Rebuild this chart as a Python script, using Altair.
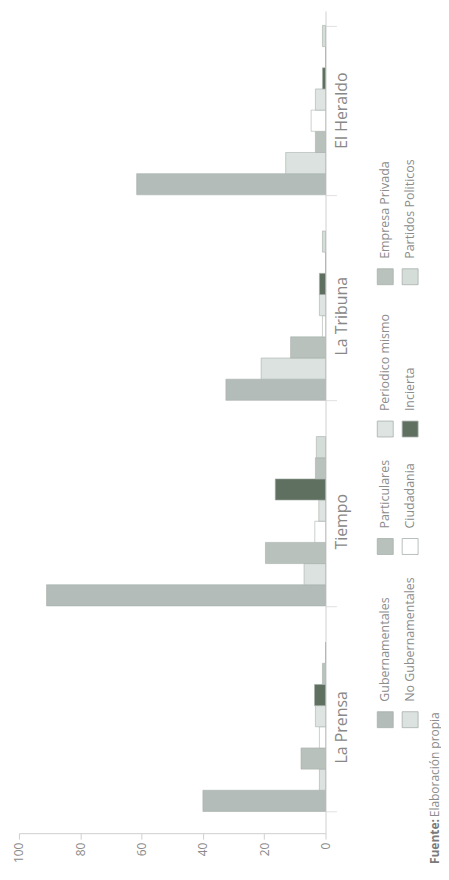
import altair as alt
import pandas as pd

# ---- data ----
newspapers = ["La Prensa", "Tiempo", "La Tribuna", "El Heraldo"]
series = ["Gubernamentales", "No Gubernamentales", "Particulares", "Ciudadania",
          "Periodico mismo", "Incierta", "Empresa Privada", "Partidos Politicos"]
la_prensa = [40, 2, 8, 2, 3.3, 3.6, 1, 0]
tiempo = [91, 7, 19.6, 3.5, 2.2, 16.4, 3.3, 3]
la_tribuna = [32.5, 21, 11.4, 1, 2, 2, 0, 1]
el_heraldo = [61.6, 13, 3.3, 4.7, 3.3, 1, 0, 1]
x_ticks = [0, 20, 40, 60, 80, 100]
source_parts = ["Fuente:", "Elaboración propia"]

colors = ["#b3bcb8", "#dbe2df", "#b9c1bd", "#ffffff",
          "#dde4e1", "#5f6f60", "#bac2be", "#d5ddd9"]

values_by_paper = [la_prensa, tiempo, la_tribuna, el_heraldo]
rows = []
for paper, vals in zip(newspapers, values_by_paper):
    for s, v in zip(series, vals):
        rows.append({"periodico": paper, "serie": s, "valor": v})
df = pd.DataFrame(rows)

color_scale = alt.Scale(domain=series, range=colors)

bars = alt.Chart(df).mark_bar(stroke="#a7afab", strokeWidth=0.6).encode(
    x=alt.X("valor:Q",
            scale=alt.Scale(domain=[0, 100], reverse=True, nice=False),
            axis=alt.Axis(values=x_ticks, orient="bottom", labelAngle=270,
                          labelAlign="right", labelBaseline="middle",
                          grid=False, tickSize=6, labelPadding=3,
                          labelFontSize=12, labelFont="Open Sans",
                          labelColor="#8a8a8a", domainColor="#d0d0d0",
                          tickColor="#d0d0d0", title=None)),
    y=alt.Y("periodico:N", sort=list(reversed(newspapers)),
            scale=alt.Scale(paddingInner=0.176, paddingOuter=0.088, align=0.4),
            axis=alt.Axis(orient="right", labelAngle=270, labelAlign="center",
                          labelBaseline="top", tickBand="extent", tickSize=11,
                          labelPadding=-3, labelFontSize=16, labelFont="Open Sans",
                          labelColor="#888888", domainColor="#d0d0d0",
                          tickColor="#e0e0e0", title=None)),
    yOffset=alt.YOffset("serie:N", sort=list(reversed(series)),
                        scale=alt.Scale(paddingInner=0, paddingOuter=0)),
    color=alt.Color("serie:N", scale=color_scale, legend=None),
).properties(width=308, height=826)

# ---- custom rotated legend ----
leg_df = pd.DataFrame({
    "serie": series,
    "slot": [i // 2 for i in range(len(series))],
    "fila": [i % 2 for i in range(len(series))],
})
leg_x = alt.X("fila:Q", scale=alt.Scale(domain=[0, 2], range=[26, 76]), axis=None)
leg_y = alt.Y("slot:Q", scale=alt.Scale(domain=[0, 1, 2, 3], range=[712, 538, 420, 267]),
              axis=None)

swatches = alt.Chart(leg_df).mark_square(
    size=256, stroke="#a7afab", strokeWidth=0.8, opacity=1
).encode(x=leg_x, y=leg_y,
         color=alt.Color("serie:N", scale=color_scale, legend=None))

labels = alt.Chart(leg_df).mark_text(
    angle=270, align="left", baseline="middle", dx=18,
    fontSize=12.5, font="Open Sans", color="#8c8c8c"
).encode(x=leg_x, y=leg_y, text="serie:N")

src_df = pd.DataFrame({"fila": [2, 2], "texto": source_parts})
src_bold = alt.Chart(src_df.iloc[[0]]).mark_text(
    angle=270, align="left", baseline="middle", fontSize=12,
    font="Open Sans", fontWeight="bold", color="#7a7a7a"
).encode(x=leg_x, y=alt.value(857), text="texto:N")
src_rest = alt.Chart(src_df.iloc[[1]]).mark_text(
    angle=270, align="left", baseline="middle", dx=47, fontSize=12,
    font="Open Sans", color="#8c8c8c"
).encode(x=leg_x, y=alt.value(857), text="texto:N")

legend = alt.layer(swatches, labels, src_bold, src_rest).properties(width=82, height=826)

chart = alt.hconcat(bars, legend, spacing=10).properties(
    padding={"left": 5, "top": 0, "right": 0, "bottom": 0}
).configure(background="white").configure_view(stroke=None)

chart.save("out.html", embed_options={"renderer": "svg", "actions": False})
